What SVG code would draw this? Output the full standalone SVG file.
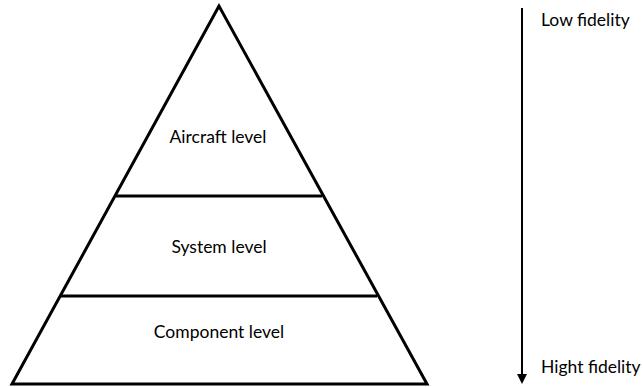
<svg xmlns="http://www.w3.org/2000/svg" width="643" height="387" viewBox="0 0 643 387">
<style>
.ln{stroke:#000;stroke-width:3;fill:none;stroke-linejoin:miter}
.t{font-family:Lato,"Open Sans",sans-serif;font-size:17.5px;fill:#000}
</style>
<rect width="643" height="387" fill="#fff"/>
<g id="pyramid">
<path class="ln" d="M219,6 L12,384 L427,384 Z"/>
</g>
<g id="aircraft">
<text class="t" x="218" y="143" text-anchor="middle">Aircraft level</text>
</g>
<g id="system">
<text class="t" x="219" y="253" text-anchor="middle">System level</text>
</g>
<g id="component">
<text class="t" x="219" y="338" text-anchor="middle">Component level</text>
</g>
<g id="connectors">
<line class="ln" x1="116" y1="196" x2="322" y2="196"/>
<line class="ln" x1="61" y1="296" x2="377" y2="296"/>
<line x1="522" y1="8" x2="522" y2="376" stroke="#000" stroke-width="2"/>
<path d="M517,374 L527,374 L522,384 Z" fill="#000"/>
</g>
<g id="labels">
<text class="t" x="541" y="26">Low fidelity</text>
<text class="t" x="541" y="373">Hight fidelity</text>
</g>
</svg>
